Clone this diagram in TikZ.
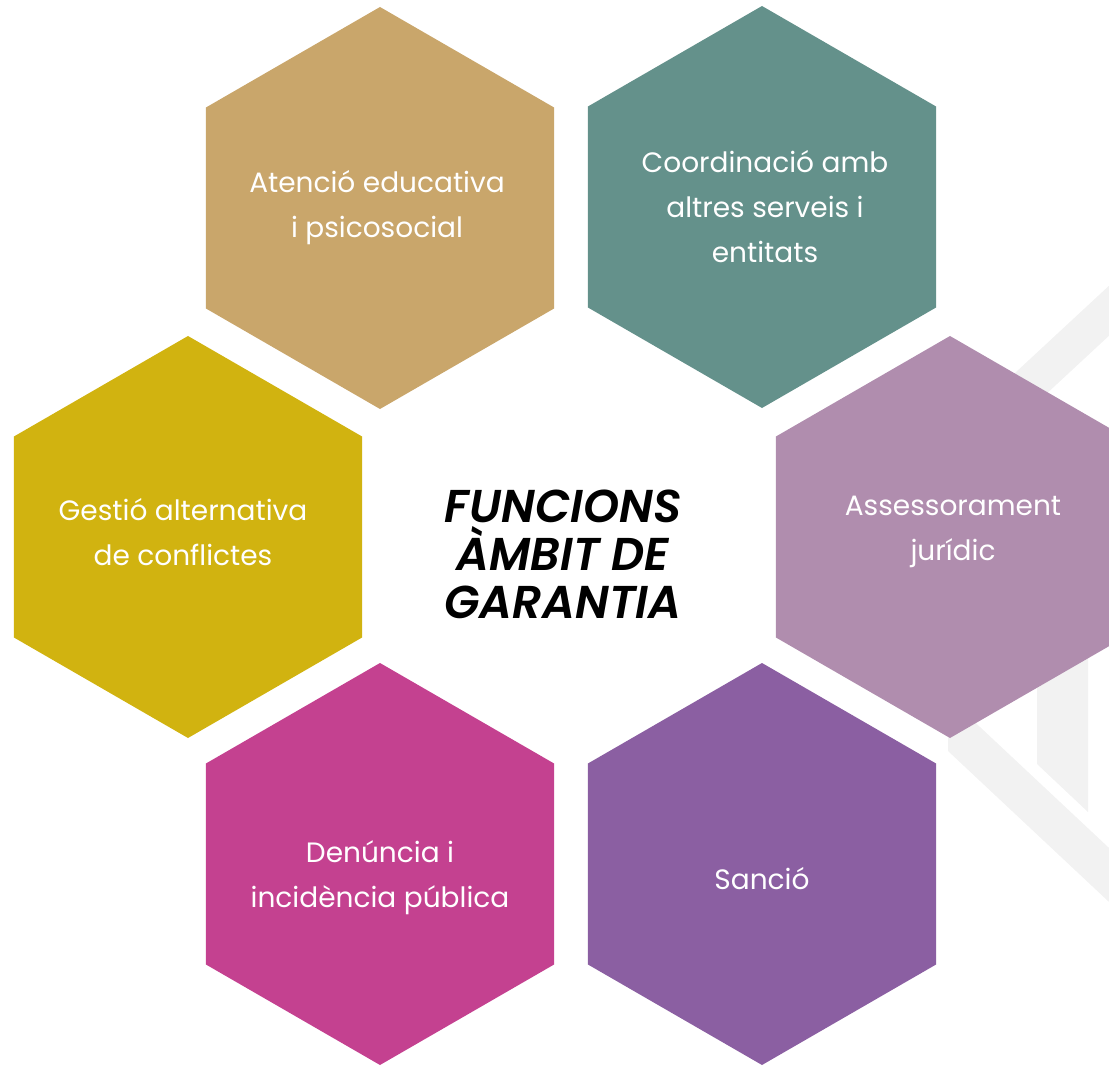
\documentclass[tikz,border=0pt]{standalone}
\usepackage{fontspec}
\setmainfont{Poppins}
\newfontfamily\titlefont{Poppins SemiBold Italic}
\usetikzlibrary{shapes.geometric}
\definecolor{tanhex}{HTML}{C9A66B}
\definecolor{tealhex}{HTML}{64918B}
\definecolor{goldhex}{HTML}{D1B310}
\definecolor{mauvehex}{HTML}{B08DAE}
\definecolor{magentahex}{HTML}{C44190}
\definecolor{purplehex}{HTML}{8B5FA2}
\definecolor{markgray}{HTML}{F2F2F2}
\tikzset{
 hexa/.style={regular polygon, regular polygon sides=6, shape border rotate=30,
  minimum size=402pt, inner sep=0pt, outer sep=0pt, draw=none},
 lbl/.style={text=white, align=center, font=\fontsize{28}{45}\selectfont},
 titletext/.style={text=black, align=center,
  font=\fontsize{46}{48}\selectfont\titlefont}
}
\begin{document}
\begin{tikzpicture}[x=1pt,y=-1pt]
 \useasboundingbox (0,0) rectangle (1109,1067);
 \clip (0,0) rectangle (1109,1067);
 % faint mark behind the right column
 \fill[markgray] (960,424) -- (1140,257) -- (1140,307) -- (960,474) -- cycle;
 \fill[markgray] (948,697) -- (1140,877) -- (1140,931) -- (948,751) -- cycle;
 \fill[markgray] (1037,650) -- (1088,650) -- (1088,812) -- (1037,764) -- cycle;
 % hexagons
 \node[hexa, fill=tanhex] (atencio) at (380,208) {};
 \node[hexa, fill=tealhex] (coordinacio) at (762,207) {};
 \node[hexa, fill=goldhex] (gestio) at (188,537) {};
 \node[hexa, fill=mauvehex] (assessorament) at (950,537) {};
 \node[hexa, fill=magentahex] (denuncia) at (380,864) {};
 \node[hexa, fill=purplehex] (sancio) at (762,864) {};
 % texts
 \node[lbl] (atencio-t) at ([xshift=-3pt]atencio) {Atenció educativa\\i psicosocial};
 \node[lbl] (coordinacio-t) at ([xshift=3pt]coordinacio) {Coordinació amb\\altres serveis i\\entitats};
 \node[lbl] (gestio-t) at ([xshift=-5pt,yshift=5pt]gestio) {Gestió alternativa\\de conflictes};
 \node[lbl] (assessorament-t) at ([xshift=3pt,yshift=5pt]assessorament) {Assessorament\\jurídic};
 \node[lbl] (denuncia-t) at ([yshift=-14pt]denuncia) {Denúncia i\\incidència pública};
 \node[lbl] (sancio-t) at ([yshift=-15pt]sancio) {Sanció};
 \node[titletext] (funcions) at (563,554) {FUNCIONS\\ÀMBIT DE\\GARANTIA};
\end{tikzpicture}
\end{document}
